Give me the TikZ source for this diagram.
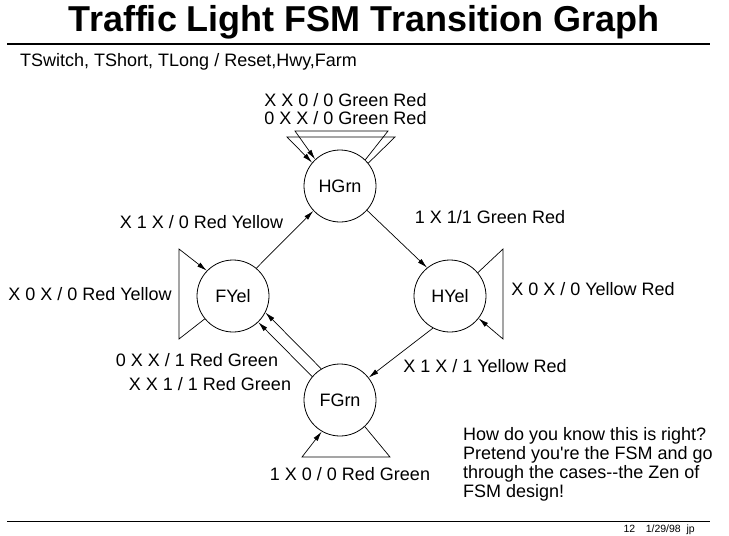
\documentclass[tikz,border=0pt]{standalone}
\usepackage{fontspec}
\setmainfont{Liberation Sans}
\usetikzlibrary{arrows.meta}
\tikzset{
  x=1pt,y=-1pt,
  state/.style={draw,circle,line width=0.8pt,minimum size=72pt,inner sep=0pt,font=\fontsize{18}{18}\selectfont},
  edge/.style={line width=0.7pt,-{Latex[length=10pt,width=5pt]}},
  lab/.style={font=\fontsize{18}{18}\selectfont,inner sep=0pt,anchor=base},
}
\begin{document}
\begin{tikzpicture}
\useasboundingbox (0,0) rectangle (729,536);
% title and rules
\node[font=\fontsize{36}{36}\selectfont\bfseries,inner sep=0pt,anchor=base] (title) at (364,31) {Traffic Light FSM Transition Graph};
\draw[line width=1.6pt] (7,44) -- (710,44);
\node[lab,anchor=base west] (legend) at (20,66) {TSwitch, TShort, TLong / Reset,Hwy,Farm};
\draw[line width=0.8pt] (7,521) -- (710,521);
\node[font=\fontsize{10.5}{10.5}\selectfont,inner sep=0pt,anchor=base east] (foot) at (695,532) {12\quad 1/29/98\ \ jp};
% states
\node[state] (HGrn) at (340,186) {HGrn};
\node[state] (FYel) at (233,296) {FYel};
\node[state] (HYel) at (450,296) {HYel};
\node[state] (FGrn) at (340,400) {FGrn};
% loop corners
\coordinate (ha1) at (388,131); \coordinate (ha2) at (295,131);
\coordinate (hb1) at (395,137); \coordinate (hb2) at (287,137);
\coordinate (fy1) at (179,339); \coordinate (fy2) at (179,249);
\coordinate (hy1) at (503,249); \coordinate (hy2) at (503,339);
\coordinate (fg1) at (390,457); \coordinate (fg2) at (302,457);
% self loops
\draw[edge] (HGrn.46) -- (ha1) -- (ha2) -- (HGrn.133);
\draw[edge] (HGrn.39) -- (hb1) -- (hb2) -- (HGrn.140);
\draw[edge] (FYel.219) -- (fy1) -- (fy2) -- (FYel.136);
\draw[edge] (HYel.40) -- (hy1) -- (hy2) -- (HYel.-38);
\draw[edge] (FGrn.-47) -- (fg1) -- (fg2) -- (FGrn.240);
% transitions
\draw[edge] (FYel.50) -- (HGrn.223);
\draw[edge] (HGrn.-42) -- (HYel.129);
\draw[edge] (HYel.242) -- (FGrn.38);
\draw[edge] (FGrn.121) -- (FYel.-27);
\draw[edge] (FGrn.140) -- (FYel.-46);
% labels
\node[lab] (l1) at (345.5,106) {X X 0 / 0 Green Red};
\node[lab] (l2) at (345.5,124) {0 X X / 0 Green Red};
\node[lab] (l3) at (201.5,228) {X 1 X / 0 Red Yellow};
\node[lab] (l4) at (490,223) {1 X 1/1 Green Red};
\node[lab] (l5) at (90,300) {X 0 X / 0 Red Yellow};
\node[lab] (l6) at (593,295) {X 0 X / 0 Yellow Red};
\node[lab] (l7) at (197,366) {0 X X / 1 Red Green};
\node[lab] (l8) at (210,390) {X X 1 / 1 Red Green};
\node[lab] (l9) at (485,372) {X 1 X / 1 Yellow Red};
\node[lab] (l10) at (350,480) {1 X 0 / 0 Red Green};
\node[font=\fontsize{18}{19}\selectfont,inner sep=0pt,anchor=north west,align=left] (note) at (463,427.3)
  {How do you know this is right?\\Pretend you\textquotesingle re the FSM and go\\through the cases-{}-the Zen of\\FSM design!};
\end{tikzpicture}
\end{document}
